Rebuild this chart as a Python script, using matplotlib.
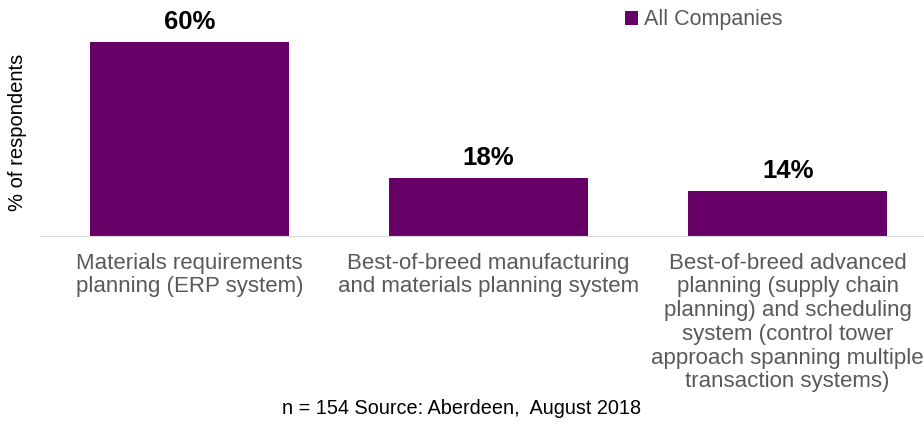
import matplotlib.pyplot as plt

# ── Data ───────────────────────────────────────────────
categories = [
    "Materials requirements\nplanning (ERP system)",
    "Best-of-breed manufacturing\nand materials planning system",
    "Best-of-breed advanced\nplanning (supply chain\nplanning) and scheduling\nsystem (control tower\napproach spanning multiple\ntransaction systems)",
]
values = [60, 18, 14]
series_name = "All Companies"

plt.rcParams["font.family"] = ["Liberation Sans", "DejaVu Sans"]
purple = "#660066"
grey = "#595959"

fig = plt.figure(figsize=(9.24, 4.24), dpi=100)
ax = fig.add_axes([40 / 924, 1 - 236 / 424, 884 / 924, 236 / 424])

x = list(range(len(categories)))
bars = ax.bar(x, values, width=0.665, color=purple, label=series_name)

for bar, v in zip(bars, values):
    ax.text(bar.get_x() + bar.get_width() / 2, v + 2.4, f"{v}%",
            ha="center", va="bottom", fontsize=18.5, fontweight="bold", color="black")

ax.set_xlim(-0.5, 2.456)
ax.set_ylim(0, 73)
ax.set_yticks([])
ax.set_xticks(x)
ax.set_xticklabels(categories, fontsize=16, color=grey, linespacing=1.17)
ax.tick_params(axis="x", length=0, pad=12)

for side in ["top", "right", "left"]:
    ax.spines[side].set_visible(False)
ax.spines["bottom"].set_color("#d9d9d9")

# y label sits left of the plot, centred a bit below the middle
ax.set_ylabel("% of respondents", fontsize=14.5, color="black")
ax.yaxis.set_label_coords(-0.015, 1 - 132 / 236)

ax.legend(loc="center left", bbox_to_anchor=(585 / 884, 1 - 20 / 236), frameon=False,
          fontsize=15.5, labelcolor=grey, handlelength=0.6, handleheight=0.6,
          handletextpad=0.3, borderaxespad=0, borderpad=0)

fig.text(0.5, 1 - 408 / 424, "n = 154 Source: Aberdeen,  August 2018",
         ha="center", va="center", fontsize=14.3, color="black")

fig.savefig("out.png", dpi=100)
